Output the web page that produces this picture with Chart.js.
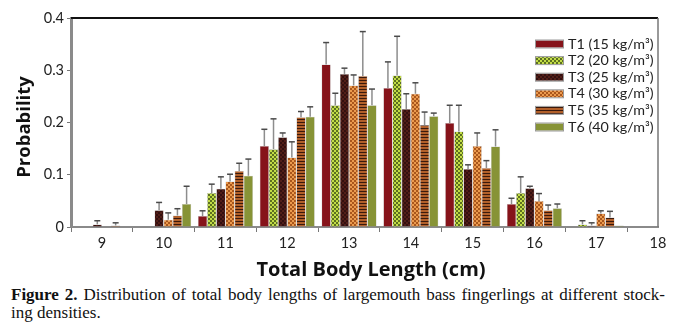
<!DOCTYPE html>
<html>
<head>
<meta charset="utf-8">
<script src="https://cdn.jsdelivr.net/npm/chart.js@4/dist/chart.umd.min.js"></script>
<style>
  html, body { margin: 0; padding: 0; background: #fff; }
  #wrap { position: relative; width: 675px; height: 331px; }
  #chart { display: block; }
  .cap { position: absolute; left: 11px; width: 654px; font-family: "Liberation Serif", "DejaVu Serif", serif; font-size: 17px; color: #111; line-height: 18px; white-space: nowrap; }
  #cap1 { top: 286px; text-align: justify; text-align-last: justify; }
  #cap2 { top: 304px; }
</style>
</head>
<body>
<div id="wrap">
  <canvas id="chart" width="675" height="282"></canvas>
  <div class="cap" id="cap1"><b>Figure 2.</b> Distribution of total body lengths of largemouth bass fingerlings at different stock-</div>
  <div class="cap" id="cap2">ing densities.</div>
</div>
<script>
"use strict";
// body length classes (cm)
const lengths = [9, 10, 11, 12, 13, 14, 15, 16, 17];
const seriesNames = ["T1 (15 kg/m³)", "T2 (20 kg/m³)", "T3 (25 kg/m³)", "T4 (30 kg/m³)", "T5 (35 kg/m³)", "T6 (40 kg/m³)"];

const t1 = [0, 0, 0.021, 0.155, 0.311, 0.266, 0.199, 0.044, 0];
const t2 = [0, 0, 0.065, 0.149, 0.233, 0.290, 0.183, 0.065, 0.005];
const t3 = [0.005, 0.032, 0.073, 0.172, 0.293, 0.226, 0.111, 0.074, 0.003];
const t4 = [0, 0.014, 0.087, 0.133, 0.271, 0.255, 0.155, 0.050, 0.026];
const t5 = [0.003, 0.022, 0.107, 0.210, 0.289, 0.195, 0.113, 0.032, 0.018];
const t6 = [0, 0.044, 0.098, 0.211, 0.233, 0.212, 0.154, 0.036, 0.003];

// upper error (SD) for each bar
const t1Err = [0, 0, 0.010, 0.032, 0.042, 0.050, 0.034, 0.011, 0];
const t2Err = [0, 0, 0.017, 0.058, 0.023, 0.075, 0.050, 0.031, 0.007];
const t3Err = [0.007, 0.015, 0.023, 0.008, 0.011, 0.029, 0.008, 0.004, 0.005];
const t4Err = [0, 0.013, 0.014, 0.030, 0.020, 0.021, 0.025, 0.014, 0.005];
const t5Err = [0.005, 0.013, 0.015, 0.011, 0.085, 0.025, 0.014, 0.010, 0.012];
const t6Err = [0, 0.034, 0.032, 0.019, 0.031, 0.006, 0.032, 0.008, 0];

const yTicks = [0, 0.1, 0.2, 0.3, 0.4];
const xTitle = "Total Body Length (cm)";
const yTitle = "Probability";

function makePattern(size, bg, fg, cells) {
    let c = document.createElement("canvas");
    c.width = size;
    c.height = size;
    let ctx = c.getContext("2d");
    ctx.fillStyle = bg;
    ctx.fillRect(0, 0, size, size);
    ctx.fillStyle = fg;
    cells.forEach(r => ctx.fillRect(r[0], r[1], r[2], r[3]));
    return ctx.createPattern(c, "repeat");
}

const checker = [[0, 0, 2, 2], [2, 2, 2, 2]];
const fills = [
    "#86131a",
    makePattern(4, "#5c7020", "#c2dc46", checker),
    makePattern(4, "#331010", "#521e18", checker),
    makePattern(4, "#a9561c", "#eb9a4e", checker),
    makePattern(3, "#b2602a", "#3a190c", [[0, 2, 3, 1]]),
    "#879336",
];

const values = [t1, t2, t3, t4, t5, t6];
const errors = [t1Err, t2Err, t3Err, t4Err, t5Err, t6Err];

const errorBars = {
    id: "errorBars",
    afterDatasetsDraw(chart) {
        let ctx = chart.ctx;
        let y = chart.scales.y;
        ctx.save();
        chart.data.datasets.forEach((ds, i) => {
            let meta = chart.getDatasetMeta(i);
            meta.data.forEach((bar, j) => {
                let e = errors[i][j];
                if (!e) return;
                let top = y.getPixelForValue(values[i][j] + e);
                ctx.strokeStyle = "#8d8d8d";
                ctx.lineWidth = 1.5;
                ctx.beginPath();
                ctx.moveTo(bar.x, bar.y);
                ctx.lineTo(bar.x, top);
                ctx.stroke();
                ctx.strokeStyle = "#4a4a4a";
                ctx.beginPath();
                ctx.moveTo(bar.x - 3, top);
                ctx.lineTo(bar.x + 3, top);
                ctx.stroke();
            });
        });
        ctx.restore();
    }
};

const frameAndLegend = {
    id: "frameAndLegend",
    afterDraw(chart) {
        let ctx = chart.ctx;
        let a = chart.chartArea;
        ctx.save();
        ctx.strokeStyle = "#111";
        ctx.lineWidth = 2;
        ctx.beginPath();
        ctx.moveTo(a.left, a.top);
        ctx.lineTo(a.right, a.top);
        ctx.stroke();
        ctx.strokeStyle = "#777";
        ctx.lineWidth = 1.5;
        ctx.beginPath();
        ctx.moveTo(a.right, a.top);
        ctx.lineTo(a.right, a.bottom);
        ctx.stroke();

        // axis titles
        ctx.fillStyle = "#111";
        ctx.textAlign = "center";
        ctx.textBaseline = "middle";
        ctx.font = "bold 20px 'Open Sans'";
        ctx.fillText(xTitle, 371, 270);
        ctx.save();
        ctx.translate(25, 127);
        ctx.rotate(-Math.PI / 2);
        ctx.font = "bold 18.5px 'Open Sans'";
        ctx.fillText(yTitle, 0, 0);
        ctx.restore();

        // legend inside the plot
        ctx.textAlign = "left";
        ctx.font = "14.3px Lato";
        chart.data.datasets.forEach((ds, i) => {
            let cy = 44 + i * 16.6;
            ctx.fillStyle = ds.backgroundColor;
            ctx.fillRect(536, cy - 3.5, 27, 7);
            ctx.strokeStyle = "#999";
            ctx.lineWidth = 1;
            ctx.strokeRect(535.5, cy - 4, 28, 8);
            ctx.fillStyle = "#222";
            ctx.fillText(ds.label, 568, cy);
        });
        ctx.restore();
    }
};

function setUp() {
    let ctx = document.getElementById("chart").getContext("2d");
    new Chart(ctx, {
        type: "bar",
        data: {
            datasets: values.map((v, i) => ({
                label: seriesNames[i],
                data: lengths.map((x, j) => ({ x: x, y: v[j] })),
                backgroundColor: fills[i],
                borderColor: "rgba(60,60,60,0.35)",
                borderWidth: 0.5,
                categoryPercentage: 0.89,
                barPercentage: 1.0,
            })),
        },
        options: {
            responsive: false,
            animation: false,
            devicePixelRatio: 1,
            layout: { padding: { top: 18, right: 17, left: 0, bottom: 0 } },
            plugins: { legend: { display: false }, tooltip: { enabled: false } },
            scales: {
                x: {
                    type: "linear",
                    min: 8.5,
                    max: 18,
                    offset: false,
                    afterBuildTicks: s => { s.ticks = s.ticks.filter(t => Number.isInteger(t.value)); },
                    afterFit: s => { s.height = 55; },
                    ticks: { stepSize: 1, includeBounds: false, color: "#222", font: { family: "Lato", size: 14.5 }, padding: 3, maxRotation: 0 },
                    grid: { display: true, drawOnChartArea: false, tickLength: 5, color: "#777" },
                    border: { color: "#8a8a8a", width: 2 },
                },
                y: {
                    min: 0,
                    max: 0.4,
                    afterBuildTicks: s => { s.ticks = yTicks.map(v => ({ value: v })); },
                    afterFit: s => { s.width = 71; },
                    ticks: { color: "#222", font: { family: "Lato", size: 14.5 }, padding: 3, callback: v => v === 0 ? "0" : v.toFixed(1) },
                    grid: { display: true, drawOnChartArea: false, tickLength: 4, color: "#777" },
                    border: { color: "#8a8a8a", width: 3 },
                },
            },
        },
        plugins: [errorBars, frameAndLegend],
    });
}
document.addEventListener("DOMContentLoaded", setUp);
</script>
</body>
</html>
